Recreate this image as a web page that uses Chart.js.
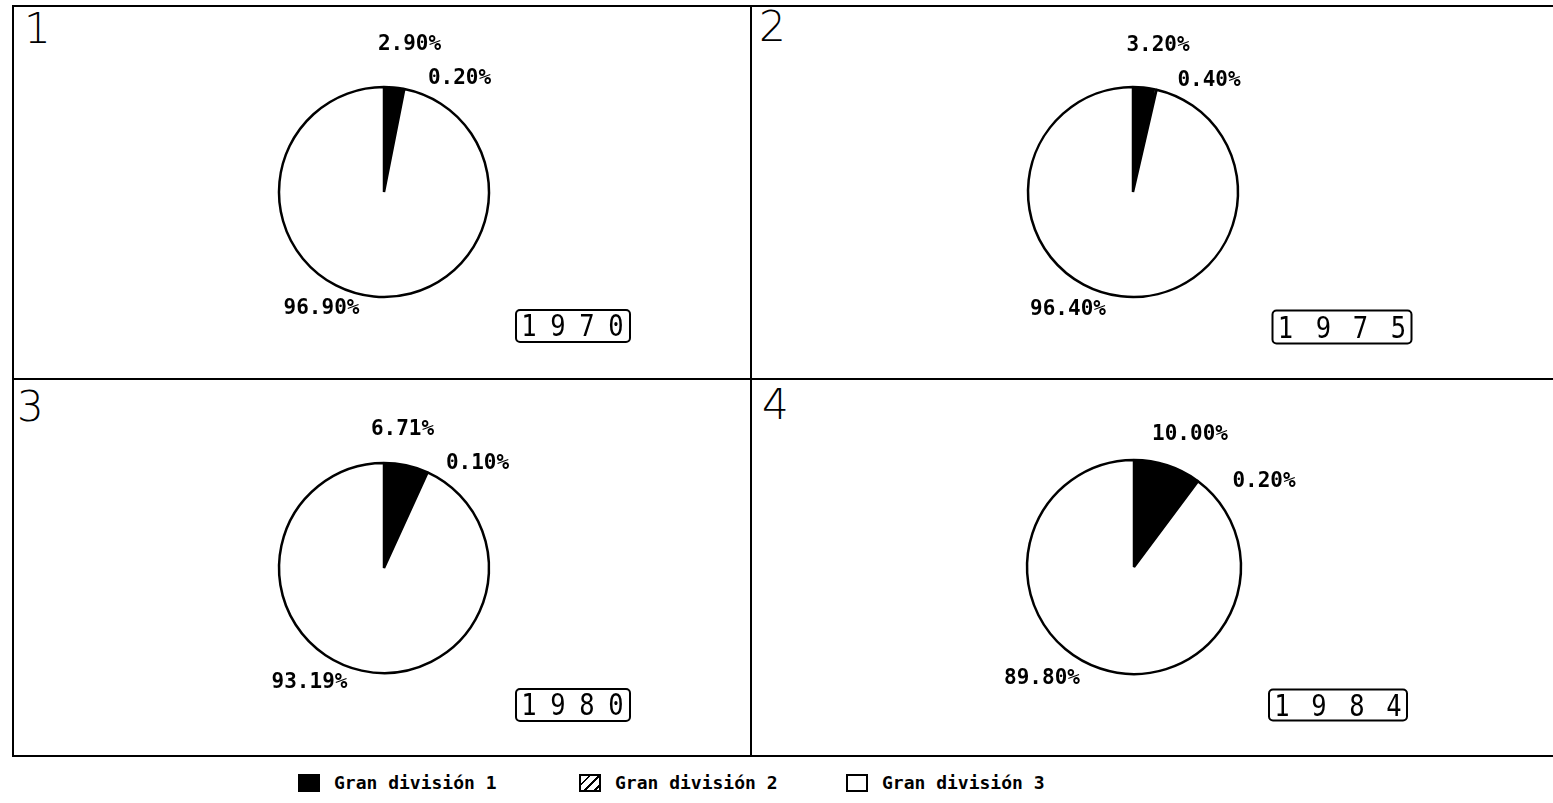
<!DOCTYPE html>
<html>
<head>
<meta charset="utf-8">
<script src="https://cdn.jsdelivr.net/npm/chart.js@4.4.1/dist/chart.umd.min.js"></script>
<style>
  html, body { margin: 0; padding: 0; background: #fff; }
  body { width: 1553px; height: 803px; position: relative; overflow: hidden; }
  .line { position: absolute; background: #000; }
  .pie { position: absolute; }
  .num { position: absolute; font-family: 'DejaVu Sans', sans-serif; font-weight: 200; font-size: 42px; line-height: 1; color: #000; }
  .pct { position: absolute; font-family: 'DejaVu Sans Mono', monospace; font-weight: bold; font-size: 21px; line-height: 1; color: #000; transform: translate(-50%, -50%); white-space: nowrap; }
  .year { position: absolute; box-sizing: border-box; border: 2px solid #000; border-radius: 5px; font-family: 'DejaVu Sans Mono', monospace; font-size: 30px; line-height: 1; color: #000; display: flex; align-items: center; justify-content: space-between; padding: 0 3px; transform: translate(-50%, -50%); }
  .year span { display: inline-block; transform: scaleX(0.85); }
  .legend { position: absolute; left: 0; top: 772px; height: 20px; font-family: 'DejaVu Sans Mono', monospace; font-weight: bold; font-size: 18px; color: #000; }
  .litem { position: absolute; top: 0; display: flex; align-items: center; white-space: nowrap; }
  .lbox { box-sizing: border-box; width: 22px; height: 18px; border: 2px solid #000; margin-right: 14px; }
</style>
</head>
<body>
<script>
// ---- data ----
const years = ['1970', '1975', '1980', '1984'];
const panelNumbers = ['1', '2', '3', '4'];
const categories = ['Gran división 1', 'Gran división 2', 'Gran división 3'];
const division1 = [2.90, 3.20, 6.71, 10.00];
const division2 = [0.20, 0.40, 0.10, 0.20];
const division3 = [96.90, 96.40, 93.19, 89.80];

// ---- layout (positions / sizes) ----
const pieCenters = [[383.5, 192], [1133, 192], [383.5, 568], [1134, 567]];
const pieRadii = [105, 105, 105, 107];
const labelOffsets = [
  [[26, -149], [76, -115], [-62, 115]],
  [[25, -148], [76, -113], [-65, 116]],
  [[19, -140], [94, -106], [-74, 113]],
  [[56, -134], [130, -87], [-92, 110]]
];
const yearBoxes = [[189, 134, 116, 34], [209, 135, 141, 35], [189, 137, 116, 34], [204, 138, 140, 33]];
const numPos = [[24, 8], [759, 6], [17, 386], [762, 384]];
const legendX = [298, 579, 846];

// frame lines
function line(x, y, w, h) {
  const d = document.createElement('div');
  d.className = 'line';
  d.style.left = x + 'px'; d.style.top = y + 'px';
  d.style.width = w + 'px'; d.style.height = h + 'px';
  document.body.appendChild(d);
}
line(12, 5, 1560, 2);
line(12, 378, 1560, 2);
line(12, 755, 1560, 2);
line(12, 5, 2, 752);
line(750, 5, 2, 752);

// hatch pattern
function hatch() {
  const c = document.createElement('canvas');
  c.width = 8; c.height = 8;
  const g = c.getContext('2d');
  g.fillStyle = '#fff'; g.fillRect(0, 0, 8, 8);
  g.strokeStyle = '#000'; g.lineWidth = 1.5;
  g.beginPath(); g.moveTo(0, 8); g.lineTo(8, 0); g.stroke();
  return g.createPattern(c, 'repeat');
}
const hatchPattern = hatch();

const fmt = v => v.toFixed(2) + '%';

years.forEach((yr, i) => {
  const size = 300;
  const cv = document.createElement('canvas');
  cv.width = size; cv.height = size;
  cv.className = 'pie';
  cv.style.left = (pieCenters[i][0] - size / 2) + 'px';
  cv.style.top = (pieCenters[i][1] - size / 2) + 'px';
  cv.style.width = size + 'px'; cv.style.height = size + 'px';
  document.body.appendChild(cv);

  const chart = new Chart(cv.getContext('2d'), {
    type: 'pie',
    data: {
      labels: categories,
      datasets: [{
        data: [division1[i], division2[i], division3[i]],
        backgroundColor: ['#000', hatchPattern, '#fff'],
        borderColor: '#000',
        borderWidth: 2.5,
        borderAlign: 'center'
      }]
    },
    options: {
      responsive: false,
      animation: false,
      radius: pieRadii[i],
      layout: { padding: 0 },
      plugins: { legend: { display: false }, tooltip: { enabled: false } }
    }
  });

  const arc = chart.getDatasetMeta(0).data[0];
  const cx = pieCenters[i][0] - size / 2 + arc.x;
  const cy = pieCenters[i][1] - size / 2 + arc.y;
  const vals = [division1[i], division2[i], division3[i]];
  vals.forEach((v, k) => {
    const t = document.createElement('div');
    t.className = 'pct';
    t.textContent = fmt(v);
    t.style.left = (cx + labelOffsets[i][k][0]) + 'px';
    t.style.top = (cy + labelOffsets[i][k][1]) + 'px';
    document.body.appendChild(t);
  });

  const yb = document.createElement('div');
  yb.className = 'year';
  const [ox, oy, w, h] = yearBoxes[i];
  yb.style.left = (cx + ox) + 'px';
  yb.style.top = (cy + oy) + 'px';
  yb.style.width = w + 'px';
  yb.style.height = h + 'px';
  yr.split('').forEach(ch => {
    const s = document.createElement('span');
    s.textContent = ch;
    yb.appendChild(s);
  });
  document.body.appendChild(yb);

  const n = document.createElement('div');
  n.className = 'num';
  n.textContent = panelNumbers[i];
  n.style.left = numPos[i][0] + 'px';
  n.style.top = numPos[i][1] + 'px';
  document.body.appendChild(n);
});

// legend
const legend = document.createElement('div');
legend.className = 'legend';
document.body.appendChild(legend);
const boxStyles = [
  'background:#000;',
  'background: repeating-linear-gradient(135deg, #fff 0 5px, #000 5px 7px);',
  'background:#fff;'
];
categories.forEach((c, k) => {
  const it = document.createElement('div');
  it.className = 'litem';
  it.style.left = legendX[k] + 'px';
  const b = document.createElement('span');
  b.className = 'lbox';
  b.setAttribute('style', boxStyles[k]);
  const t = document.createElement('span');
  t.textContent = c;
  it.appendChild(b); it.appendChild(t);
  legend.appendChild(it);
});
</script>
</body>
</html>
